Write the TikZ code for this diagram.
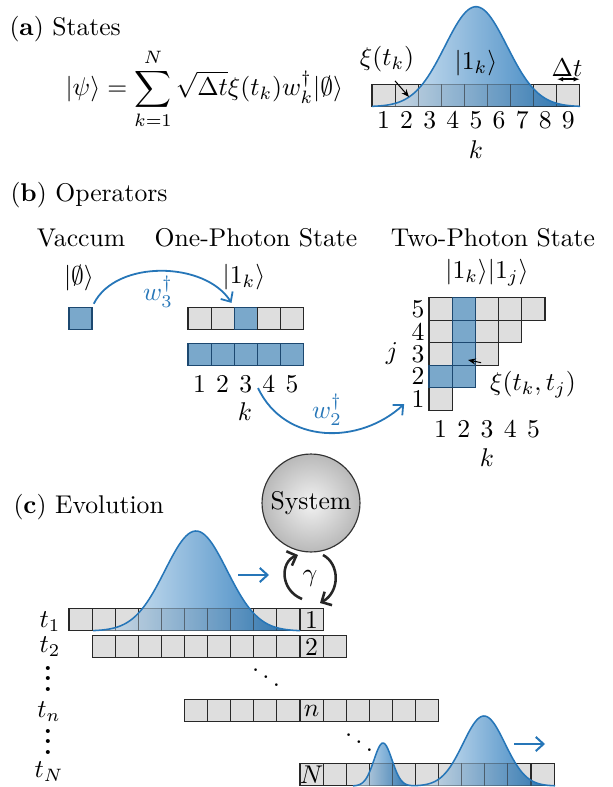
\documentclass[tikz,border=0pt]{standalone}
\usepackage{amsmath,amssymb,bm}
\usetikzlibrary{arrows.meta}
\definecolor{pulseblue}{RGB}{38,118,184}
\definecolor{pulselight}{RGB}{232,242,250}
\definecolor{pulsedark}{RGB}{40,120,186}
\definecolor{cellgray}{RGB}{222,222,222}
\definecolor{cellline}{RGB}{40,40,40}
\definecolor{bluefill}{RGB}{122,168,203}
\definecolor{blueline}{RGB}{28,72,112}
\pgfmathdeclarefunction{bump}{3}{\pgfmathparse{exp(max(-9,-0.5*((#1-#2)/#3)*((#1-#2)/#3)))}}
\tikzset{
  cell/.style={draw=cellline,fill=cellgray,line width=0.45pt,minimum width=9pt,minimum height=8.8pt,inner sep=0pt,outer sep=0pt},
  bluecell/.style={cell,draw=blueline,fill=bluefill},
  num/.style={inner sep=0.5pt},
  pulse/.style={draw=pulseblue,line width=0.6pt},
  pulsefill/.style={left color=pulselight,right color=pulsedark},
  gridover/.style={draw=cellline,draw opacity=0.35,fill=black,fill opacity=0.07,line width=0.45pt},
  bluearrow/.style={pulseblue,line width=0.7pt,-{Straight Barb[length=3pt,width=5.5pt]}},
  thinarrow/.style={line width=0.4pt,-{Stealth[length=3pt,width=2.4pt]}},
  gamarrow/.style={black!85,line width=1pt,-{Straight Barb[length=3pt,width=6pt]}},
}
% gaussian fill over cells: #1 domain, #2 curve, #3 cell names
\newcommand{\fillpulse}[3]{%
  \fill[pulsefill] plot[domain=#1,samples=90] (\x,{#2}) -- cycle;
  \begin{scope}
    \clip plot[domain=#1,samples=90] (\x,{#2}) -- cycle;
    \foreach \c in {#3} \draw[gridover] (\c.north west) rectangle (\c.south east);
  \end{scope}}
\begin{document}
\begin{tikzpicture}[x=0.39pt,y=-0.39pt]
\useasboundingbox (0,0) rectangle (612,787);
%(a) states
\node[anchor=base west,inner sep=0pt] (titleA) at (9,36) {(\textbf{a}) States};
\node[anchor=base west,inner sep=0pt] (eqA) at (65,96) {$\displaystyle |\psi\rangle=\sum_{k=1}^{N}\sqrt{\Delta t}\xi(t_k)w_k^\dagger|\emptyset\rangle$};
\foreach \i in {1,...,9}{
  \node[cell] (a\i) at ({372+(\i-0.5)*23.1},95.5) {};
  \node[num] (an\i) at ({372+(\i-0.5)*23.1},120) {\i};
}
\fillpulse{372:580}{106.7-100*bump(\x,476,31)}{a1,a2,a3,a4,a5,a6,a7,a8,a9}
\draw[pulse] plot[domain=372:580,samples=90] (\x,{106.7-100*bump(\x,476,31)});
\node (kA) at (476,150) {$k$};
\node (ketA) at (476,63) {$|1_k\rangle$};
\node (xiA) at (387,59) {$\xi(t_k)$};
\coordinate (xiAtip) at (409,97);
\draw[thinarrow] (xiA.south) ++(8,0) -- (xiAtip);
\node (dtA) at (567,68) {$\Delta t$};
\draw[line width=0.6pt,{Latex[length=2.5pt]}-{Latex[length=2.5pt]}] (a9.north west) ++(0,-5) -- ++(23.1,0);
%(b) operators
\node[anchor=base west,inner sep=0pt] (titleB) at (10,202) {(\textbf{b}) Operators};
\node[anchor=base] (vacT) at (81,247) {Vaccum};
\node[anchor=base] (oneT) at (256,247) {One-Photon State};
\node[anchor=base] (twoT) at (493,247) {Two-Photon State};
\node (vacK) at (79,278) {$|\emptyset\rangle$};
\node (oneK) at (244,277) {$|1_k\rangle$};
\node (twoK) at (487,273) {$|1_k\rangle|1_j\rangle$};
\node[bluecell] (vac) at (80.5,318.5) {};
\foreach \i/\st in {1/cell,2/cell,3/bluecell,4/cell,5/cell}{
  \node[\st] (r1-\i) at ({188+(\i-0.5)*23.1},318.5) {};
  \node[bluecell] (r2-\i) at ({188+(\i-0.5)*23.1},354.5) {};
  \node[num] (bk\i) at ({188+(\i-0.5)*23.1},384) {\i};
}
\node (kB) at (245,412) {$k$};
%two-photon grid
\foreach \j in {1,...,5}{
  \foreach \k in {1,...,\j}{
    \node[cell] (g\k-\j) at ({429+(\k-0.5)*23.2},{298+(5.5-\j)*22.4}) {};
  }
  \node[num] (jl\j) at (418,{298+(5.5-\j)*22.4}) {\j};
}
\foreach \k/\j in {2/2,2/3,2/4,2/5,1/2}
  \node[bluecell] (gb\k-\j) at (g\k-\j) {};
\foreach \k in {1,...,5}
  \node[num] (gk\k) at ({429+(\k-0.5)*23.2},429) {\k};
\node (kG) at (487,458) {$k$};
\node (jG) at (392,354) {$j$};
\node (xiG) at (533,385) {$\xi(t_k,t_j)$};
\coordinate (xiGtip) at (468,360);
\draw[thinarrow] (xiG.north west) -- (xiGtip);
%creation operators
\draw[bluearrow,shorten <=1.5pt,shorten >=2pt] (vac.north east) .. controls +(24,-48) and +(-29,-46) .. (r1-3.north west);
\node[pulseblue] (w3) at (158,292) {$w_3^\dagger$};
\coordinate (w2s) at (258,388);
\draw[bluearrow,shorten >=3pt] (w2s) .. controls +(27,57) and +(-50,46) .. (jl1.west);
\node[pulseblue] (w2) at (327,410) {$w_2^\dagger$};
%(c) evolution
\node[anchor=base west,inner sep=0pt] (titleC) at (13,513) {(\textbf{c}) Evolution};
\node[circle,draw=black!80,line width=0.45pt,inner color=gray!10,outer color=gray!55,minimum size=38.2pt,inner sep=0pt] (sys) at (311,503) {System};
\foreach \i in {1,...,11}{
  \node[cell] (c1-\i) at ({69+(\i-0.5)*23.1},619.5) {};
  \node[cell] (c2-\i) at ({92.1+(\i-0.5)*23.1},646.5) {};
  \node[cell] (cn-\i) at ({184.5+(\i-0.5)*23.1},710.5) {};
  \node[cell] (cN-\i) at ({300+(\i-0.5)*23.1},774.5) {};
}
\node[num] (lab1) at (c1-11) {1};
\node[num] (lab2) at (c2-10) {2};
\node[num] (labn) at (cn-6) {$n$};
\node[num] (labN) at (cN-1) {$N$};
\fillpulse{93:300}{631-100*bump(\x,196,31)}{c1-2,c1-3,c1-4,c1-5,c1-6,c1-7,c1-8,c1-9,c1-10}
\draw[pulse] plot[domain=93:300,samples=90] (\x,{631-100*bump(\x,196,31)});
\fillpulse{353:413}{786-43*bump(\x,383,9)}{cN-3,cN-4,cN-5}
\fillpulse{413:555}{786-70*bump(\x,484,21)}{cN-5,cN-6,cN-7,cN-8,cN-9,cN-10,cN-11}
\draw[pulse] plot[domain=353:555,samples=140] (\x,{786-43*bump(\x,383,9)-70*bump(\x,484,21)});
%time labels
\node (t1) at (50,622) {$t_1$};
\node (t2) at (50,647) {$t_2$};
\node[anchor=base,inner sep=0pt] (vd1) at (48,691) {$\bm{\vdots}$};
\node (tn) at (49,712) {$t_n$};
\node[anchor=base,inner sep=0pt] (vd2) at (48,754) {$\bm{\vdots}$};
\node (tN) at (49,772) {$t_N$};
\node[anchor=base,inner sep=0pt] (dd1) at (266,689) {$\bm{\ddots}$};
\node[anchor=base,inner sep=0pt] (dd2) at (359,754) {$\bm{\ddots}$};
%moving pulses
\coordinate (mv1a) at (238,575);
\coordinate (mv1b) at (269,575);
\draw[bluearrow,line width=0.8pt] (mv1a) -- (mv1b);
\coordinate (mv2a) at (514,744);
\coordinate (mv2b) at (545,744);
\draw[bluearrow,line width=0.8pt] (mv2a) -- (mv2b);
%coupling
\coordinate (gL0) at (302,599);
\coordinate (gL1) at (298,555);
\coordinate (gR0) at (323,555);
\coordinate (gR1) at (320,603);
\draw[gamarrow] (gL0) .. controls (280,590) and (280,562) .. (gL1);
\draw[gamarrow] (gR0) .. controls (340,564) and (340,592) .. (gR1);
\node (gam) at (310,578) {$\gamma$};
\end{tikzpicture}
\end{document}
